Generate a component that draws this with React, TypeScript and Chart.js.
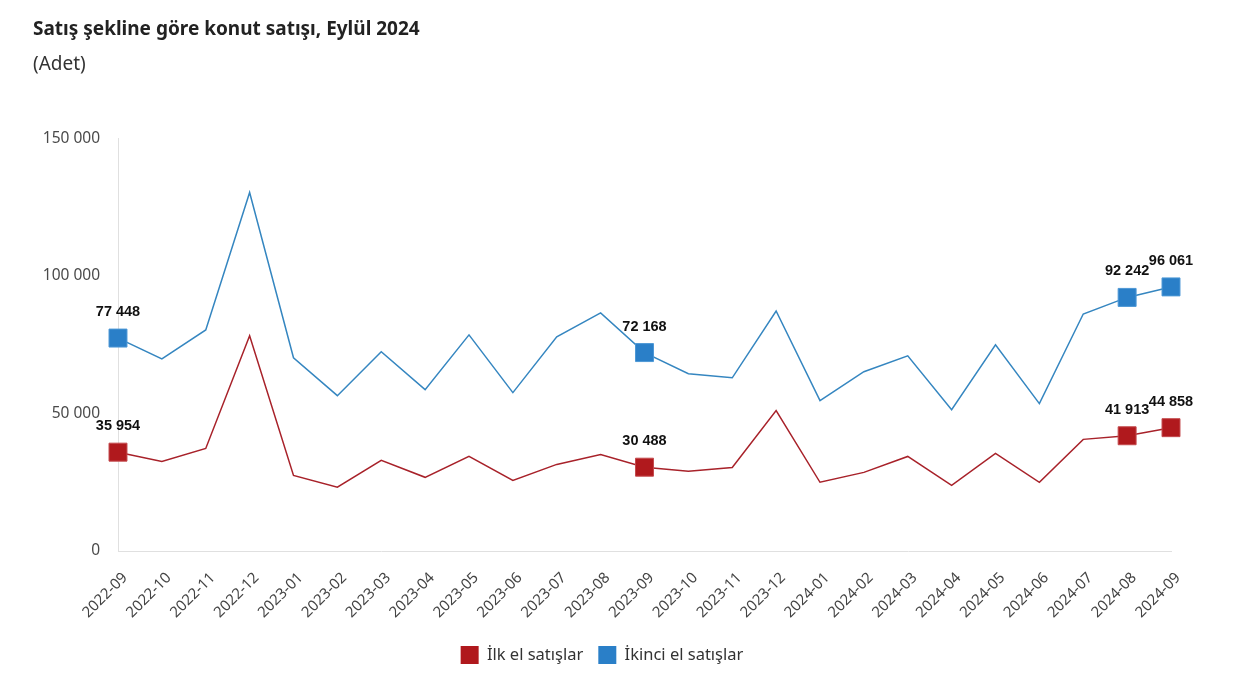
import React, { useEffect, useRef } from "react";
import { Chart, registerables } from "chart.js";

Chart.register(...registerables);

const categories = [
  "2022-09", "2022-10", "2022-11", "2022-12", "2023-01", "2023-02", "2023-03", "2023-04",
  "2023-05", "2023-06", "2023-07", "2023-08", "2023-09", "2023-10", "2023-11", "2023-12",
  "2024-01", "2024-02", "2024-03", "2024-04", "2024-05", "2024-06", "2024-07", "2024-08", "2024-09",
];

const firstHandSales = [
  35954, 32600, 37300, 78300, 27500, 23200, 33000, 26800, 34400, 25700, 31500, 35100,
  30488, 29000, 30400, 51100, 25000, 28600, 34400, 23900, 35500, 25000, 40600, 41913, 44858,
];

const secondHandSales = [
  77448, 69900, 80400, 130400, 70300, 56500, 72500, 58700, 78600, 57600, 77900, 86600,
  72168, 64500, 63000, 87300, 54700, 65200, 71000, 51400, 75000, 53600, 86200, 92242, 96061,
];

const markedIndices = [0, 12, 23, 24];
const yTicks = [0, 50000, 100000, 150000];

const seriesNames = ["İlk el satışlar", "İkinci el satışlar"];
const titleText = "Satış şekline göre konut satışı, Eylül 2024";
const subtitleText = "(Adet)";

const RED = "#b0191d";
const BLUE = "#2a7fc8";
const RED_LINE = "#a8222a";
const BLUE_LINE = "#3586c0";

const fmt = (v: number) => {
  const s = Math.round(v).toString();
  return s.replace(/\B(?=(\d{3})+(?!\d))/g, " ");
};

const labelPlugin = {
  id: "pointLabels",
  afterDatasetsDraw(chart: any) {
    const ctx = chart.ctx;
    ctx.save();
    ctx.font = "bold 14.5px 'Liberation Sans', Arial, sans-serif";
    ctx.fillStyle = "#111";
    ctx.textAlign = "center";
    ctx.textBaseline = "middle";
    chart.data.datasets.forEach((ds: any, di: number) => {
      const meta = chart.getDatasetMeta(di);
      markedIndices.forEach((i) => {
        const el = meta.data[i];
        if (!el) return;
        ctx.fillText(fmt(ds.data[i]), el.x, el.y - 26);
      });
    });
    ctx.restore();
  },
};

export default function App() {
  const ref = useRef<HTMLCanvasElement | null>(null);

  useEffect(() => {
    document.body.style.margin = "0";
    const canvas = ref.current;
    if (!canvas) return;
    const chart = new Chart(canvas, {
      type: "line",
      data: {
        labels: categories,
        datasets: [
          {
            label: seriesNames[0],
            data: firstHandSales,
            borderColor: RED_LINE,
            backgroundColor: RED,
            borderWidth: 1.5,
            pointStyle: "rect",
            pointRadius: (c: any) => (markedIndices.includes(c.dataIndex) ? 12.7 : 0),
            pointBackgroundColor: RED,
            pointBorderColor: "#c44a4d",
            pointBorderWidth: 1,
            tension: 0,
          },
          {
            label: seriesNames[1],
            data: secondHandSales,
            borderColor: BLUE_LINE,
            backgroundColor: BLUE,
            borderWidth: 1.5,
            pointStyle: "rect",
            pointRadius: (c: any) => (markedIndices.includes(c.dataIndex) ? 12.7 : 0),
            pointBackgroundColor: BLUE,
            pointBorderColor: "#4d98d6",
            pointBorderWidth: 1,
            tension: 0,
          },
        ],
      },
      options: {
        animation: false,
        responsive: false,
        maintainAspectRatio: false,
        layout: { padding: { left: 33, right: 64, top: 8, bottom: 2 } },
        plugins: {
          title: {
            display: true,
            text: titleText,
            align: "start",
            color: "#222",
            font: { family: "'Noto Sans', sans-serif", size: 19, weight: "bold" },
            padding: { top: 10, bottom: 0 },
          },
          subtitle: {
            display: true,
            text: subtitleText,
            align: "start",
            color: "#333",
            font: { family: "'Noto Sans', sans-serif", size: 19 },
            padding: { top: 12, bottom: 63 },
          },
          legend: {
            position: "bottom",
            labels: {
              boxWidth: 18,
              boxHeight: 18,
              padding: 15,
              color: "#333",
              font: { family: "'Noto Sans', sans-serif", size: 16.5 },
              generateLabels: (ch: any) =>
                ch.data.datasets.map((ds: any, i: number) => ({
                  text: ds.label,
                  fillStyle: ds.backgroundColor,
                  strokeStyle: ds.backgroundColor,
                  lineWidth: 0,
                  hidden: false,
                  datasetIndex: i,
                  fontColor: "#333",
                })),
            },
          },
          tooltip: { enabled: false },
        },
        scales: {
          x: {
            grid: { display: false, drawTicks: false },
            border: { display: true, color: "#e0e0e0", width: 1 },
            offset: false,
            ticks: {
              autoSkip: false,
              maxRotation: 45,
              minRotation: 45,
              padding: 18,
              labelOffset: 7,
              color: "#444",
              font: { family: "'Noto Sans', sans-serif", size: 15 },
            },
            afterFit: (s: any) => {
              s.height = 80;
            },
          },
          y: {
            min: 0,
            max: 150000,
            grid: { display: false, drawTicks: false },
            border: { display: true, color: "#e0e0e0", width: 1 },
            afterBuildTicks: (s: any) => {
              s.ticks = yTicks.map((v) => ({ value: v }));
            },
            afterFit: (s: any) => {
              s.width = 85;
            },
            ticks: {
              padding: 18,
              color: "#4a4a4a",
              font: { family: "'Noto Sans', sans-serif", size: 15.5 },
              callback: (v: any) => fmt(Number(v)),
            },
          },
        },
      },
      plugins: [labelPlugin],
    } as any);
    return () => chart.destroy();
  }, []);

  return (
    <div style={{ width: 1235, height: 676, background: "#fff" }}>
      <canvas ref={ref} width={1235} height={676} style={{ display: "block" }} />
    </div>
  );
}
